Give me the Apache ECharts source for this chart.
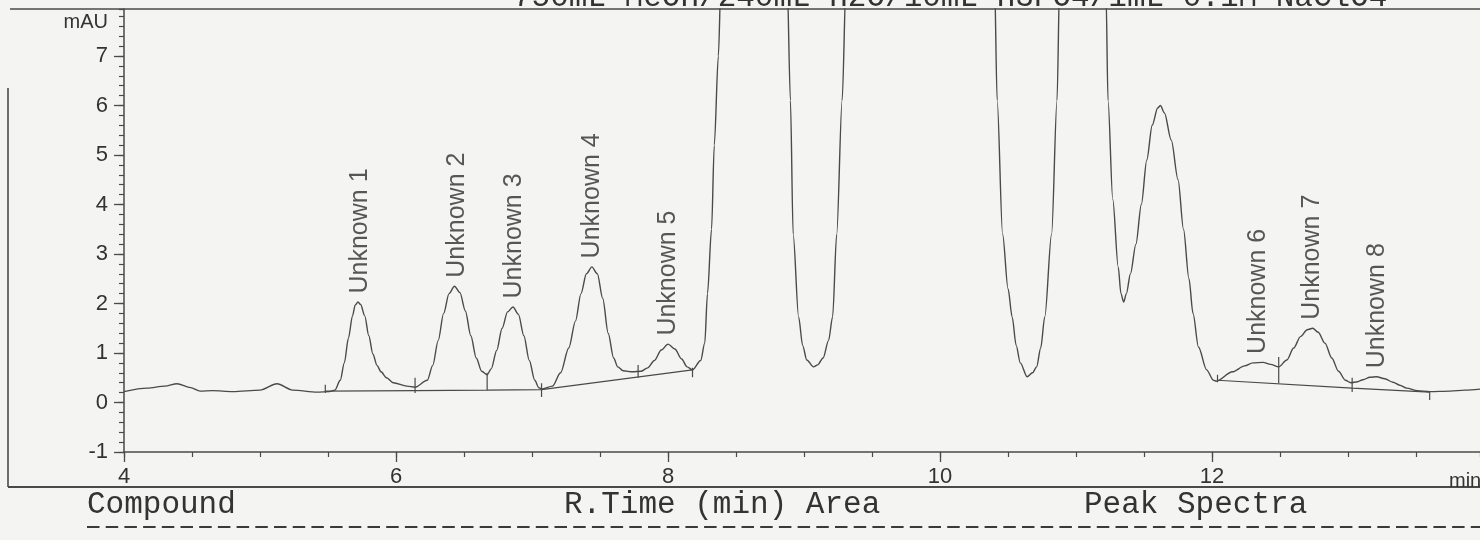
<!DOCTYPE html>
<html><head><meta charset="utf-8">
<script src="https://cdn.jsdelivr.net/npm/echarts@6/dist/echarts.min.js"></script>
<style>html,body{margin:0;padding:0;background:#f4f4f2;overflow:hidden}#c{width:1480px;height:540px}</style>
</head><body><div id="c"></div>
<script>
// Retention time (min) and absorbance (mAU) of the trace
const rtMin = [4.00,4.17,4.30,4.39,4.49,4.56,4.65,4.80,5.00,5.125,5.24,5.42,5.51,
  5.55,5.59,5.62,5.65,5.68,5.70,5.72,5.74,5.77,5.80,5.83,5.86,5.89,5.93,5.98,6.08,6.14,
  6.23,6.27,6.31,6.35,6.39,6.43,6.47,6.51,6.55,6.59,6.63,6.67,
  6.70,6.74,6.78,6.82,6.86,6.90,6.94,6.98,7.02,7.05,7.07,
  7.15,7.21,7.27,7.32,7.36,7.40,7.44,7.48,7.52,7.56,7.60,7.63,7.67,7.74,7.80,
  7.85,7.90,7.95,8.00,8.05,8.10,8.14,8.18,
  8.24,8.27,8.29,8.32,8.34,8.37,8.39,8.63,8.875,8.90,8.92,8.96,8.99,9.02,9.07,9.10,9.14,9.18,9.21,9.24,9.28,9.31,
  9.85,10.40,10.42,10.46,10.50,10.53,10.56,10.59,10.64,10.68,10.71,10.74,10.77,10.82,10.86,10.88,
  11.07,11.22,11.235,11.27,11.31,11.33,11.35,11.37,11.40,11.44,11.48,11.52,11.56,11.60,11.62,11.65,11.70,11.75,11.79,11.83,11.86,11.90,11.96,12.01,12.03,
  12.15,12.24,12.30,12.375,12.43,12.49,
  12.55,12.60,12.65,12.70,12.74,12.78,12.83,12.88,12.93,12.98,13.02,
  13.07,13.11,13.16,13.21,13.27,13.33,13.38,13.43,13.51,13.60,13.75,13.86,13.97];
const mAU = [0.22,0.29,0.33,0.38,0.30,0.23,0.24,0.22,0.25,0.38,0.25,0.21,0.22,
  0.25,0.45,0.8,1.3,1.75,1.97,2.03,1.98,1.75,1.35,0.98,0.75,0.62,0.5,0.40,0.33,0.31,
  0.45,0.75,1.25,1.8,2.2,2.35,2.22,1.85,1.35,0.9,0.63,0.56,
  0.68,1.05,1.5,1.83,1.93,1.78,1.35,0.85,0.45,0.3,0.27,
  0.33,0.6,1.1,1.65,2.2,2.6,2.74,2.6,2.1,1.4,0.9,0.72,0.64,0.62,0.63,
  0.7,0.85,1.06,1.18,1.08,0.88,0.72,0.66,
  0.85,1.2,2.2,3.5,5.2,7.0,8.6,40,8.6,6.1,3.4,1.73,1.15,0.86,0.72,0.76,0.9,1.25,1.73,3.4,6.1,8.6,
  70,8.6,6.1,3.4,2.3,1.73,1.15,0.8,0.52,0.6,0.72,1.1,1.73,3.4,6.1,8.6,
  16,8.3,6.1,4.1,2.74,2.2,2.03,2.2,2.6,3.2,4.0,4.9,5.6,5.95,6.0,5.85,5.3,4.5,3.5,2.5,1.8,1.12,0.66,0.45,0.43,
  0.62,0.74,0.8,0.81,0.77,0.72,
  0.86,1.1,1.33,1.47,1.5,1.42,1.2,0.9,0.63,0.45,0.4,
  0.42,0.46,0.51,0.52,0.48,0.41,0.35,0.29,0.24,0.22,0.23,0.25,0.27];

// Labelled peaks
const peakNames = ['Unknown 1','Unknown 2','Unknown 3','Unknown 4','Unknown 5','Unknown 6','Unknown 7','Unknown 8'];
const peakTimes = [5.735,6.45,6.87,7.44,8.00,12.34,12.735,13.21];
const peakHeights = [2.03,2.35,1.93,2.74,1.18,0.81,1.5,0.52];

// Integration marks (time, top, bottom)
const markTimes = [5.48,6.14,6.67,7.07,7.78,8.18,12.04,12.49,13.03,13.60];
const markTop = [0.36,0.50,0.60,0.39,0.76,0.70,0.56,0.92,0.50,0.23];
const markBottom = [0.19,0.19,0.25,0.11,0.50,0.51,0.41,0.39,0.21,0.05];

// Integration baselines
const base1Times = [5.48,6.14,6.67,7.07,8.18];
const base1Values = [0.23,0.24,0.25,0.26,0.66];
const base2Times = [12.04,13.03,13.60];
const base2Values = [0.45,0.29,0.21];

const headerText = '750mL MeOH/240mL H2O/10mL H3PO4/1mL 0.1M NaClO4';
const tableHeads = ['Compound','R.Time (min) Area','Peak Spectra'];
const tableHeadX = [87,564,1084];

const INK = '#4a4a4a';
const chart = echarts.init(document.getElementById('c'), null, {renderer:'canvas'});

const markSeries = markTimes.map((t,i)=>({
  type:'line', xAxisIndex:0, yAxisIndex:0, symbol:'none', silent:true,
  lineStyle:{color:INK,width:1.2},
  data:[[t,markBottom[i]],[t,markTop[i]]]
}));

const option = {
  backgroundColor:'#f4f4f2',
  animation:false,
  grid:{left:124,right:0,top:9,bottom:88,containLabel:false,outerBoundsMode:'none'},
  xAxis:[
    {type:'value',min:4,max:13.97,interval:2,
     axisLine:{show:true,onZero:false,lineStyle:{color:INK,width:1.5}},
     axisTick:{show:true,length:10,lineStyle:{color:INK,width:1.3}},
     axisLabel:{show:true,margin:14,fontSize:22,color:'#333',fontFamily:'Liberation Sans',showMaxLabel:false,
       formatter:v=> (v===4||v===6||v===8||v===10||v===12)? String(v):''},
     splitLine:{show:false}},
    {type:'value',min:4,max:13.97,interval:0.5,position:'bottom',
     axisLine:{show:false,onZero:false},axisTick:{show:true,length:5,lineStyle:{color:INK,width:1.2}},
     axisLabel:{show:false},splitLine:{show:false}}
  ],
  yAxis:[
    {type:'value',min:-1,max:7.95,interval:1,
     axisLine:{show:true,onZero:false,lineStyle:{color:INK,width:1.5}},
     axisTick:{show:true,length:10,lineStyle:{color:INK,width:1.3}},
     axisLabel:{show:true,margin:16,fontSize:22,color:'#333',fontFamily:'Liberation Sans',showMaxLabel:false,
       formatter:v=> (Math.abs(v-Math.round(v))<1e-6 ? String(Math.round(v)) : '')},
     splitLine:{show:false}},
    {type:'value',min:-1,max:7.95,interval:0.2,position:'left',
     axisLine:{show:false,onZero:false},axisTick:{show:true,length:5,lineStyle:{color:INK,width:1.2}},
     axisLabel:{show:false},splitLine:{show:false}}
  ],
  series:[
    {type:'line',xAxisIndex:0,yAxisIndex:0,symbol:'none',clip:true,smooth:0.3,smoothMonotone:'x',
     lineStyle:{color:INK,width:1.4},
     data:rtMin.map((t,i)=>[t,mAU[i]])},
    {type:'line',xAxisIndex:0,yAxisIndex:0,symbol:'none',lineStyle:{color:INK,width:1.2},
     data:base1Times.map((t,i)=>[t,base1Values[i]])},
    {type:'line',xAxisIndex:0,yAxisIndex:0,symbol:'none',lineStyle:{color:INK,width:1.2},
     data:base2Times.map((t,i)=>[t,base2Values[i]])},
    ...markSeries,
    {type:'scatter',xAxisIndex:0,yAxisIndex:0,symbolSize:1,itemStyle:{color:'rgba(0,0,0,0)'},
     label:{show:true,position:'top',distance:8,rotate:90,align:'left',verticalAlign:'middle',
       fontSize:25,color:'#2e2e2e',fontFamily:'Liberation Sans',formatter:p=>peakNames[p.dataIndex]},
     data:peakTimes.map((t,i)=>[t,peakHeights[i]])}
  ],
  graphic:[
    {type:'line',shape:{x1:10,y1:9,x2:1480,y2:9},style:{stroke:INK,lineWidth:1.6},silent:true},
    {type:'line',shape:{x1:8,y1:88,x2:8,y2:487},style:{stroke:INK,lineWidth:1.6},silent:true},
    {type:'line',shape:{x1:8,y1:487,x2:1480,y2:487},style:{stroke:INK,lineWidth:2},silent:true},
    {type:'line',shape:{x1:87,y1:527,x2:1480,y2:527},style:{stroke:'#3a3a3a',lineWidth:2,lineDash:[12.5,6.2]},silent:true},
    {type:'text',x:513,y:-2,style:{text:headerText,font:'31px "Liberation Mono"',fill:'#333',verticalAlign:'middle',align:'left'},silent:true},
    ...tableHeads.map((s,i)=>({type:'text',x:tableHeadX[i],y:505,style:{text:s,font:'31px "Liberation Mono"',fill:'#333',verticalAlign:'middle',align:'left'},silent:true})),
    {type:'text',x:108,y:22,style:{text:'mAU',font:'20px "Liberation Sans"',fill:'#333',verticalAlign:'middle',align:'right'},silent:true},
    {type:'text',x:1449,y:481,style:{text:'min',font:'20px "Liberation Sans"',fill:'#333',verticalAlign:'middle',align:'left'},silent:true}
  ]
};
chart.setOption(option);
</script></body></html>
